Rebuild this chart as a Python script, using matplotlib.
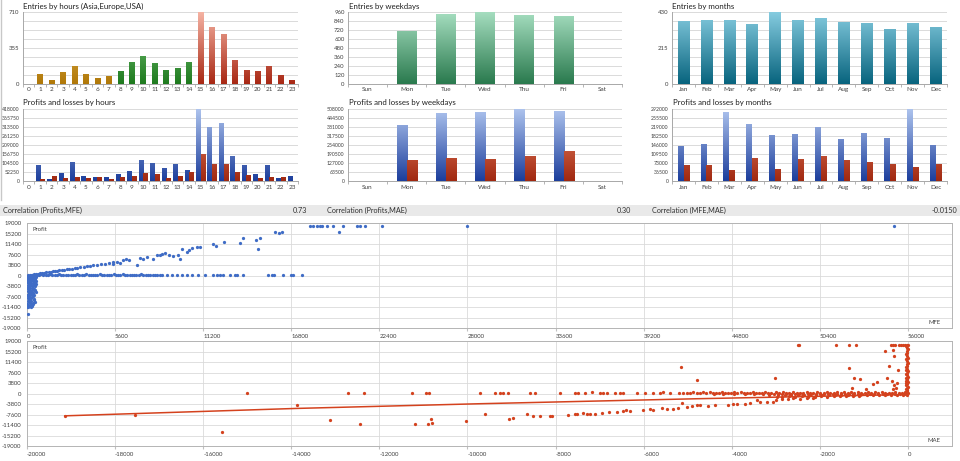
import numpy as np
import matplotlib
matplotlib.use("Agg")
import matplotlib.pyplot as plt
from matplotlib.colors import to_rgb
from matplotlib.patches import Rectangle
from matplotlib.lines import Line2D

plt.rcParams['font.family'] = ['Lato', 'DejaVu Sans']

# ---------------- data ----------------
hour_labels = ["0", "1", "2", "3", "4", "5", "6", "7", "8", "9", "10", "11",
               "12", "13", "14", "15", "16", "17", "18", "19", "20", "21", "22", "23"]
entries_by_hour = [0, 92, 39, 111, 167, 92, 56, 72, 121, 216, 271, 206,
                   128, 154, 216, 710, 550, 484, 235, 131, 118, 167, 82, 36]
session_of_hour = ["asia"] * 8 + ["europe"] * 7 + ["usa"] * 9

weekday_labels = ["Sun", "Mon", "Tue", "Wed", "Thu", "Fri", "Sat"]
entries_by_weekday = [0, 703, 929, 962, 916, 894, 0]

month_labels = ["Jan", "Feb", "Mar", "Apr", "May", "Jun", "Jul", "Aug", "Sep", "Oct", "Nov", "Dec"]
entries_by_month = [369, 377, 380, 355, 426, 375, 392, 363, 357, 323, 361, 337]

profit_by_hour = [0, 90500, 11500, 42000, 108000, 27000, 21000, 19000, 37000, 54000, 121000, 104000,
                  75000, 94000, 58000, 418000, 310000, 331000, 141000, 92000, 37000, 87000, 17000, 25000]
loss_by_hour = [0, 10000, 25000, 17000, 23000, 13000, 21000, 10000, 23000, 27000, 42000, 37000,
                15000, 27000, 50000, 152000, 96000, 98000, 50000, 33000, 17000, 19000, 21000, 0]

profit_by_weekday = [0, 389000, 473000, 480000, 508000, 487000, 0]
loss_by_weekday = [0, 147000, 155000, 150000, 173000, 204000, 0]

profit_by_month = [139000, 147000, 276000, 227000, 182000, 186000, 218000, 167000, 190000, 172000, 292000, 143000]
loss_by_month = [62000, 63000, 42000, 89000, 48000, 87000, 98000, 81000, 73000, 67000, 54000, 66000]

hour_yticks = [0, 355, 710]
weekday_yticks = [0, 120, 240, 360, 480, 600, 720, 840, 960]
month_yticks = [0, 215, 430]
pl_hour_yticks = [0, 52250, 104500, 156750, 209000, 261250, 313500, 365750, 418000]
pl_weekday_yticks = [0, 63500, 127000, 190500, 254000, 317500, 381000, 444500, 508000]
pl_month_yticks = [0, 36500, 73000, 109500, 146000, 182500, 219000, 255500, 292000]

corr_labels = ["Correlation (Profits,MFE)", "Correlation (Profits,MAE)", "Correlation (MFE,MAE)"]
corr_values = ["0.73", "0.30", "-0.0150"]

scatter_yticks = [19000, 15200, 11400, 7600, 3800, 0, -3800, -7600, -11400, -15200, -19000]
mfe_xticks = [0, 5600, 11200, 16800, 22400, 28000, 33600, 39200, 44800, 50400, 56000]
mae_xticks = [-20000, -18000, -16000, -14000, -12000, -10000, -8000, -6000, -4000, -2000, 0]

# Profits vs MFE
mfe_loss_pts = [
    (15, -250), (70, -600), (130, -350), (190, -800), (260, -450), (340, -700), (420, -300), (500, -550), (580, -400),
    (30, -1200), (95, -1500), (160, -1050), (230, -1700), (300, -1350), (380, -1150), (460, -1600), (540, -1250),
    (10, -2300), (60, -2050), (120, -2700), (200, -2450), (270, -2850), (350, -2150), (430, -2600), (510, -2400), (590, -2050),
    (40, -3300), (110, -3800), (170, -3150), (240, -3600), (320, -3950), (400, -3400), (480, -3700), (560, -3250),
    (20, -4500), (80, -4300), (150, -4900), (210, -4650), (290, -5100), (370, -4400), (450, -4800), (530, -5200),
    (50, -5700), (100, -6200), (180, -5500), (250, -6000), (330, -5850), (410, -6300), (490, -5600), (550, -6100),
    (25, -6900), (90, -7400), (140, -6700), (220, -7200), (310, -6800), (390, -7500), (470, -7000),
    (35, -8000), (105, -7800), (175, -8500), (245, -8200), (335, -7900), (420, -8600),
    (45, -9100), (115, -9600), (190, -8900), (280, -9400), (360, -9800), (460, -9000),
    (30, -10300), (85, -10800), (160, -10100), (250, -10600), (330, -11000),
    (20, -11500), (75, -11300), (150, -11100), (280, -11400), (400, -10400), (520, -9500),
    (60, -150), (160, -120), (250, -180), (350, -100), (450, -160), (560, -130),
    (85, -14100)]
mfe_flat_pts = [
    (40, 250), (180, 350), (320, 200), (470, 400), (620, 300), (760, 180), (910, 420), (1040, 260), (1180, 330),
    (1330, 190), (1470, 380), (1600, 240), (1760, 310), (1890, 170), (2050, 400), (2190, 280), (2320, 210),
    (2480, 360), (2610, 250), (2770, 190), (2900, 330), (3050, 280), (3190, 400), (3330, 200), (3480, 310),
    (3620, 240), (3770, 370), (3910, 180), (4040, 290), (4200, 350), (4350, 220), (4480, 300), (4630, 390),
    (4770, 170), (4920, 280), (5060, 340), (5200, 230), (5370, 300), (5510, 400), (5650, 200), (5800, 320),
    (5940, 260), (6090, 380), (6230, 190), (6380, 300), (6520, 250), (6670, 350), (6810, 210), (6960, 300),
    (7100, 260), (7260, 380), (7390, 220), (7550, 310), (7700, 280), (7830, 190), (7990, 340), (8140, 250),
    (8290, 300), (8430, 220), (8600, 330), (8878, 280), (9196, 260), (9514, 320), (9832, 240), (10150, 300),
    (10467, 270), (10890, 330), (11314, 250), (11843, 300), (12055, 260), (12267, 310), (12479, 280),
    (12903, 300), (13221, 250), (13369, 290), (13751, 300), (15340, 280), (15552, 260), (15700, 300),
    (16293, 280), (16759, 300), (16928, 270), (17458, 300)]
mfe_diag_pts = [
    (300, 280), (420, 360), (560, 500), (700, 610), (830, 740), (960, 850), (1100, 980), (1230, 1090),
    (1370, 1220), (1500, 1330), (1640, 1460), (1780, 1570), (1920, 1700), (2060, 1830), (2210, 1960),
    (2370, 2090), (2520, 2240), (2690, 2380), (2860, 2530), (3030, 2690), (3210, 2840), (3400, 3000),
    (3600, 3180), (3790, 3350), (4000, 3520), (4220, 3720), (4450, 3900), (4700, 4130), (4950, 4330),
    (5200, 4540), (5480, 4800), (5450, 4290), (5750, 5050), (5900, 4700), (6100, 5500), (6300, 5900),
    (6500, 5650), (6970, 3950), (7182, 6500), (7394, 5880), (7600, 6800), (8030, 6130), (8240, 7350),
    (8450, 7500), (8600, 7700), (8800, 7970), (9000, 7400), (9300, 6990), (9620, 7600), (9720, 5880),
    (9830, 9560), (10150, 8580), (10300, 9300), (10470, 9800), (10790, 10170), (11000, 10420),
    (11820, 11280), (12030, 10790), (12500, 12010), (13520, 11650), (13730, 13480), (14570, 12870),
    (14680, 9440), (14780, 13730), (15740, 15690), (16050, 15320), (16220, 15690)]
mfe_top_pts = [
    (17990, 17770), (18200, 17770), (18410, 17770), (18620, 17770), (18730, 17770), (19050, 17770),
    (19470, 17770), (20100, 17770), (20960, 17770), (21170, 17770), (21480, 17770), (22550, 17770),
    (27950, 17770), (19850, 15570), (55100, 17770)]

# Profits vs MAE
mae_far_pts = [
    (-19137, -8300), (-17548, -7840), (-15580, -14110), (-14998, 360), (-13878, -4220), (-13122, -9770),
    (-12720, 100), (-12440, -10860), (-12343, 360), (-11253, 360), (-11199, -11100), (-10940, 360),
    (-10870, 360), (-10890, -10860), (-10830, -9170), (-10806, -10500), (-10040, -10130), (-9716, 360)]
mae_band_pts = [
    (-9375, 360), (-9262, 360), (-9186, 330), (-9073, 360), (-8581, 360), (-8467, 350), (-7900, 360),
    (-7560, 360), (-7484, 340), (-7333, 360), (-7181, 370), (-6992, 340), (-6916, 360), (-6840, 360),
    (-6651, 350), (-6538, 360), (-6462, 330), (-6160, 360), (-5970, 360), (-5781, 340), (-5630, 360),
    (-5554, 370), (-5403, 350), (-5200, 360), (-5100, 340),
    (-5024, 360), (-4949, 330), (-4870, 380), (-4797, 350), (-4720, 300), (-4650, 370), (-4580, 340),
    (-4500, 390), (-4430, 320), (-4360, 360), (-4290, 300), (-4220, 380), (-4150, 340), (-4080, 360),
    (-4010, 310), (-3940, 370), (-3870, 330), (-3800, 380), (-3730, 290), (-3660, 350), (-3590, 320),
    (-3520, 380), (-3450, 300), (-3380, 360), (-3310, 330), (-3240, 370), (-3170, 280), (-3100, 340),
    (-4400, -150), (-4200, -80), (-3950, -250), (-3700, -120), (-3500, -300), (-3300, -200), (-3150, -450),
    (-3050, -100),
    (-3000, 380), (-2920, 300), (-2840, 420), (-2770, 340), (-2690, 260), (-2610, 400), (-2530, 310),
    (-2450, 360), (-2380, 280), (-2300, 420), (-2220, 330), (-2150, 250), (-2070, 390), (-1990, 300),
    (-1910, 360), (-1840, 420), (-1760, 280), (-1680, 350), (-1600, 400), (-1530, 300), (-1450, 370),
    (-1370, 260), (-1290, 420), (-1220, 330), (-1140, 380), (-1060, 290), (-980, 360), (-910, 410),
    (-830, 300), (-750, 370), (-670, 330), (-600, 400), (-520, 280), (-440, 360), (-360, 320),
    (-290, 390), (-210, 300), (-130, 350), (-60, 330),
    (-2960, -100), (-2860, -20), (-2760, -150), (-2660, -60), (-2570, -200), (-2470, 0), (-2380, -120),
    (-2280, -40), (-2190, -180), (-2090, -70), (-2000, -10), (-1900, -160), (-1810, -50), (-1710, -130),
    (-1620, 0), (-1520, -90), (-1430, -170), (-1330, -30), (-1240, -110), (-1140, -60), (-1050, -150),
    (-950, -20), (-860, -100), (-760, -40), (-670, -130), (-570, -60), (-480, -10), (-380, -90),
    (-290, -30), (-190, -70), (-100, -20),
    (-2940, -600), (-2800, -520), (-2650, -680), (-2500, -550), (-2370, -640), (-2230, -500), (-2080, -700),
    (-1940, -560), (-1800, -620), (-1650, -480), (-1510, -660), (-1370, -540), (-1230, -600), (-1080, -470),
    (-940, -580), (-800, -520), (-660, -450), (-520, -560), (-380, -480), (-240, -520), (-110, -450),
    (-2980, -1150), (-2850, -1300), (-2700, -1050), (-2560, -1250), (-2410, -1000), (-2270, -1200),
    (-2120, -1100), (-1980, -950), (-1830, -1150), (-1690, -1000), (-1540, -900), (-1400, -1050),
    (-1250, -850), (-1110, -950),
    (-2990, -2300), (-2870, -1900), (-2730, -2150), (-2600, -1750), (-2440, -2000), (-2300, -1650),
    (-2150, -1800)]
mae_vert_pts = [
    (-20, -600), (-40, -300), (-10, 100), (-60, 500), (-30, 900), (-15, 1300), (-50, 1700), (-25, 2100),
    (-5, 2500), (-45, 2900), (-20, 3300), (-35, 3700), (-10, 4100), (-55, 4500), (-25, 4900), (-15, 5300),
    (-40, 5700), (-5, 6100), (-30, 6600), (-50, 7000), (-20, 7500), (-10, 8000), (-35, 8500), (-25, 9000),
    (-45, 9500), (-15, 10000), (-30, 10600), (-5, 11200), (-20, 11800), (-40, 12400), (-10, 13000),
    (-25, 13600), (-35, 14200), (-15, 14800), (-30, 15400), (-10, 16000), (-20, 16600), (-40, 17200),
    (-5, 17730), (-30, 17730), (-60, 17730)]
mae_upper_pts = [
    (-2490, 17730), (-2470, 17730), (-1635, 17730), (-1339, 17730), (-1188, 17730), (-385, 17730),
    (-340, 17730), (-295, 17730), (-200, 17730), (-160, 17730), (-120, 17730), (-522, 15310),
    (-334, 15660), (-318, 13500), (-425, 10000), (-227, 8430), (-1340, 9400), (-1226, 5650),
    (-1090, 5170), (-1270, 2170), (-955, 1560), (-787, 3370), (-711, 4200), (-470, 5790), (-370, 4560),
    (-310, 3000), (-280, 2030), (-243, 3980), (-5160, 9770), (-4797, 4950), (-3011, 5430), (-334, 1700)]
mae_lower_pts = [
    (-9603, -7240), (-9050, -9170), (-8974, -8800), (-8657, -7480), (-8505, -8200), (-8354, -8200),
    (-8127, -8080), (-8082, -8080), (-7711, -7600), (-7559, -7240), (-7520, -7480), (-7370, -6880),
    (-7290, -7240), (-7220, -7360), (-7105, -7240), (-6954, -6880), (-6780, -6760), (-6614, -6760),
    (-6462, -6270), (-6390, -6030), (-6311, -6390), (-6008, -6030), (-5857, -5670), (-5781, -6030),
    (-5592, -5310), (-5480, -5430), (-5330, -5430), (-5214, -5190), (-5123, -3380), (-5024, -4830),
    (-4911, -4580), (-4797, -4220), (-4720, -4220), (-4533, -4460), (-4381, -4340), (-4079, -4220),
    (-3965, -3860), (-3890, -3620), (-3700, -3620), (-3587, -3380), (-3435, -2410), (-3360, -3020),
    (-3210, -2900), (-3060, -3020)]
mae_trend_x = [-19137, -13878, -9716, -4800, 0]
mae_trend_y = [-8080, -5400, -3700, -1900, -360]

# ---------------- drawing ----------------
W, H = 960, 461
fig = plt.figure(figsize=(9.6, 4.61), dpi=100)
fig.patch.set_facecolor('white')
TXT = '#404040'


def box(l, t, r, b):
    return [l / W, 1 - b / H, (r - l) / W, (b - t) / H]


def grad_bars(ax, xs, hs, width, c_bot, c_top, vmax):
    cb = np.array(to_rgb(c_bot))
    ct = np.array(to_rgb(c_top))
    ax.bar(xs, hs, width=width, color='none', edgecolor='none')
    for x, h in zip(xs, hs):
        if h <= 0:
            continue
        f = np.linspace(0.0, h / vmax, 60)[:, None]
        img = (cb * (1 - f) + ct * f)[:, None, :]
        ax.imshow(img, extent=(x - width / 2, x + width / 2, 0, h), origin='lower',
                  aspect='auto', interpolation='bilinear', zorder=3)


def style_bar_ax(ax, labels, yticks, ylabels, yfs=4.3):
    n = len(labels)
    ymax = yticks[-1]
    ax.set_xlim(-0.5, n - 0.5)
    ax.set_ylim(0, ymax)
    ax.set_xticks(range(n))
    ax.set_xticklabels(labels, fontsize=4.6, color=TXT)
    ax.set_xticks(np.arange(n + 1) - 0.5, minor=True)
    ax.tick_params(axis='x', which='major', length=0, pad=2.5)
    ax.tick_params(axis='x', which='minor', length=2, color='#A8A8A8', width=0.6)
    ax.set_yticks(yticks)
    ax.set_yticklabels(ylabels, fontsize=yfs, color=TXT)
    ax.set_yticks([ymax * k / 8 for k in range(9)], minor=True)
    ax.tick_params(axis='y', which='both', length=0, pad=2.5)
    ax.grid(True, axis='y', which='both', color='#D4D4D4', lw=0.6, zorder=0)
    ax.set_axisbelow(True)
    for s in ['top', 'right']:
        ax.spines[s].set_visible(False)
    for s in ['left', 'bottom']:
        ax.spines[s].set_color('#A8A8A8')
        ax.spines[s].set_linewidth(0.7)
    ax.set_facecolor('white')


# --- Entries by hours
ax1 = fig.add_axes(box(23, 11.7, 298, 84))
sess_cols = {"asia": ('#B07808', '#F2C870'), "europe": ('#1E7A1E', '#88D088'), "usa": ('#A82814', '#F6B4A4')}
for sess in ["asia", "europe", "usa"]:
    idx = [i for i, s in enumerate(session_of_hour) if s == sess]
    grad_bars(ax1, idx, [entries_by_hour[i] for i in idx], 0.5, sess_cols[sess][0], sess_cols[sess][1], hour_yticks[-1])
style_bar_ax(ax1, hour_labels, hour_yticks, [str(v) for v in hour_yticks])

# --- Entries by weekdays
ax2 = fig.add_axes(box(348, 11.7, 622, 84))
grad_bars(ax2, range(7), entries_by_weekday, 0.5, '#2A7A4E', '#A6DEC0', weekday_yticks[-1])
style_bar_ax(ax2, weekday_labels, weekday_yticks, [str(v) for v in weekday_yticks])

# --- Entries by months
ax3 = fig.add_axes(box(672, 11.7, 947, 84))
grad_bars(ax3, range(12), entries_by_month, 0.5, '#08647E', '#86CCE0', month_yticks[-1])
style_bar_ax(ax3, month_labels, month_yticks, [str(v) for v in month_yticks])

BLUE = ('#1C3E9C', '#AEC4EE')
RED = ('#A02810', '#F29070')

# --- P&L by hours
ax4 = fig.add_axes(box(23, 109, 298, 181.3))
xh = np.arange(24)
grad_bars(ax4, xh - 0.2, profit_by_hour, 0.4, BLUE[0], BLUE[1], pl_hour_yticks[-1])
grad_bars(ax4, xh + 0.2, loss_by_hour, 0.4, RED[0], RED[1], pl_hour_yticks[-1])
style_bar_ax(ax4, hour_labels, pl_hour_yticks, [str(v) for v in pl_hour_yticks], yfs=3.7)

# --- P&L by weekdays
ax5 = fig.add_axes(box(348, 109, 622, 181.3))
xw = np.arange(7)
grad_bars(ax5, xw - 0.12, profit_by_weekday, 0.26, BLUE[0], BLUE[1], pl_weekday_yticks[-1])
grad_bars(ax5, xw + 0.14, loss_by_weekday, 0.26, RED[0], RED[1], pl_weekday_yticks[-1])
style_bar_ax(ax5, weekday_labels, pl_weekday_yticks, [str(v) for v in pl_weekday_yticks], yfs=3.7)

# --- P&L by months
ax6 = fig.add_axes(box(672, 109, 947, 181.3))
xm = np.arange(12)
grad_bars(ax6, xm - 0.13, profit_by_month, 0.25, BLUE[0], BLUE[1], pl_month_yticks[-1])
grad_bars(ax6, xm + 0.13, loss_by_month, 0.25, RED[0], RED[1], pl_month_yticks[-1])
style_bar_ax(ax6, month_labels, pl_month_yticks, [str(v) for v in pl_month_yticks], yfs=3.7)

# titles
titles = [("Entries by hours (Asia,Europe,USA)", 23, 6), ("Entries by weekdays", 349, 6),
          ("Entries by months", 672, 6), ("Profits and losses by hours", 23, 103),
          ("Profits and losses by weekdays", 349, 103), ("Profits and losses by months", 673, 103)]
for t, x, y in titles:
    fig.text(x / W, 1 - y / H, t, fontsize=5.7, color='#202020', ha='left', va='center')

# left window border
fig.add_artist(Line2D([1 / W, 1 / W], [1 - 200 / H, 1], transform=fig.transFigure, color='#C8C8C8', lw=1))

# correlation band
fig.add_artist(Rectangle((0, 1 - 216 / H), 1, 11 / H, transform=fig.transFigure,
                         facecolor='#E9E9E9', edgecolor='none'))
corr_label_x = [3, 327, 652]
corr_value_x = [307, 631, 957]
for lab, val, lx, vx in zip(corr_labels, corr_values, corr_label_x, corr_value_x):
    fig.text(lx / W, 1 - 210.5 / H, lab, fontsize=5.2, color='#303030', ha='left', va='center')
    fig.text(vx / W, 1 - 210.5 / H, val, fontsize=5.2, color='#303030', ha='right', va='center')


def style_scatter(ax, xlim, xticks, xlabel_txt):
    ax.set_xlim(*xlim)
    ax.set_ylim(-19000, 19000)
    ax.set_xticks(xticks)
    ax.set_xticklabels([str(v) for v in xticks], fontsize=4.3, color=TXT, ha='left')
    ax.set_yticks(scatter_yticks)
    ax.set_yticklabels([str(v) for v in scatter_yticks], fontsize=4.3, color=TXT)
    ax.tick_params(axis='x', length=2, color='#C0C0C0', pad=2)
    ax.tick_params(axis='y', length=0, pad=4)
    ax.grid(True, color='#DADADA', lw=0.6, zorder=0)
    ax.set_axisbelow(True)
    for s in ax.spines.values():
        s.set_color('#B4B4B4')
        s.set_linewidth(0.7)
    ax.text(0.006, 0.94, "Profit", transform=ax.transAxes, fontsize=4.3, color=TXT, ha='left', va='center')
    ax.text(0.988, 0.05, xlabel_txt, transform=ax.transAxes, fontsize=4.3, color=TXT, ha='right', va='center')


SBLUE = '#3F6CC6'
SRED = '#D4421E'

ax7 = fig.add_axes(box(27, 223, 952, 328))
for grp in [mfe_loss_pts, mfe_flat_pts, mfe_diag_pts, mfe_top_pts]:
    xs, ys = zip(*grp)
    ax7.scatter(xs, ys, s=5.5, color=SBLUE, linewidths=0, zorder=3)
style_scatter(ax7, (0, 58800), mfe_xticks, "MFE")

ax8 = fig.add_axes(box(27, 341, 952, 446))
for grp in [mae_far_pts, mae_band_pts, mae_vert_pts, mae_upper_pts, mae_lower_pts]:
    xs, ys = zip(*grp)
    ax8.scatter(xs, ys, s=5.5, color=SRED, linewidths=0, zorder=3)
ax8.plot(mae_trend_x, mae_trend_y, color=SRED, lw=1.1, zorder=4)
style_scatter(ax8, (-20000, 1000), mae_xticks, "MAE")

fig.savefig("out.png", dpi=100, facecolor='white')
